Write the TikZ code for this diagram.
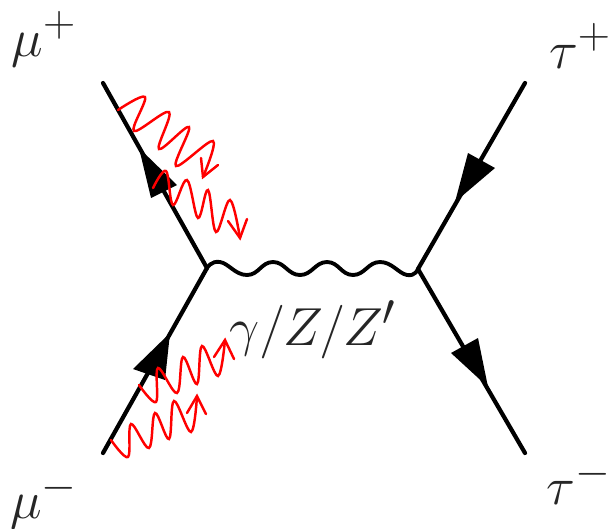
\documentclass[tikz,border=0pt]{standalone}
\begin{document}
\begin{tikzpicture}[x=0.02cm, y=-0.02cm, line cap=round,
    fermion/.style={line width=2.4pt},
    head/.style={fill=black},
    boson/.style={line width=2.2pt},
    radiation/.style={red, line width=1.4pt},
    lbl/.style={inner sep=0pt, text=black!85, scale=1.225, transform shape, font=\fontsize{24.88}{28}\selectfont}]
    \useasboundingbox (0,0) rectangle (608,528);

    \coordinate (muplus) at (103,83);
    \coordinate (muminus) at (103,453);
    \coordinate (vleft) at (207,268);
    \coordinate (vright) at (418,269);
    \coordinate (tauplus) at (525,83);
    \coordinate (tauminus) at (525,453);

    \draw[fermion] (muplus) -- (vleft);
    \draw[fermion] (muminus) -- (vleft);
    \draw[fermion] (tauplus) -- (vright);
    \draw[fermion] (vright) -- (tauminus);
    \draw[boson] plot[smooth, tension=0.8] coordinates {(vleft) (220,262) (247,275) (273,262) (300,275) (327,262) (353,275) (380,262) (407,275) (vright)};

    % arrow heads
    \fill[head] (139,148) -- (151,198) -- (177,185) -- cycle;
    \fill[head] (170,333) -- (133,369) -- (165,380) -- cycle;
    \fill[head] (455,202) -- (468,153) -- (495,168) -- cycle;
    \fill[head] (488,387) -- (451,353) -- (478,338) -- cycle;

    \node[lbl] (lmuplus) at (44,39) {$\mu^+$};
    \node[lbl] (lmuminus) at (44,501) {$\mu^-$};
    \node[lbl] (ltauplus) at (580,46) {$\tau^+$};
    \node[lbl] (ltauminus) at (579,482) {$\tau^-$};
    \node[lbl] (lboson) at (313,330) {$\gamma/Z/Z'$};

    % red photons
    \draw[radiation] plot[smooth, tension=0.6] coordinates {(118,110) (145,97) (134,131) (169,112) (159,149) (189,127) (176,166) (213,141) (203,177)};
    \draw[radiation] (218,165) -- (203,177) -- (201,158);
    \draw[radiation] plot[smooth, tension=0.6] coordinates {(153,188) (166,171) (173,205) (187,180) (198,218) (208,190) (216,232) (230,200) (240,238)};
    \draw[radiation] (228,221) -- (240,238) -- (247,219);
    \draw[radiation] plot[smooth, tension=0.6] coordinates {(111,440) (128,457) (131,424) (149,448) (155,413) (169,439) (174,401) (191,432) (197,396)};
    \draw[radiation] (187,413) -- (197,396) -- (206,414);
    \draw[radiation] plot[smooth, tension=0.6] coordinates {(139,385) (156,402) (158,368) (177,393) (183,357) (197,384) (202,346) (218,376) (225,340)};
    \draw[radiation] (214,357) -- (225,340) -- (234,359);
\end{tikzpicture}
\end{document}
